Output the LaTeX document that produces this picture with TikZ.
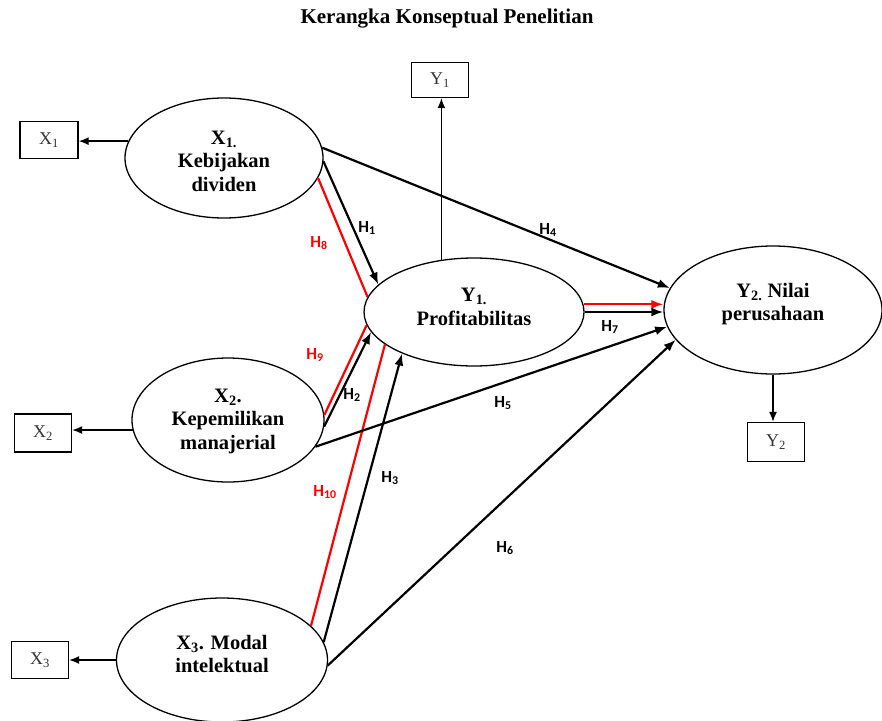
\documentclass[tikz,border=0pt]{standalone}
\usepackage{fontspec}
\setmainfont{Liberation Serif}
\newfontfamily\hfont{Carlito}
\usetikzlibrary{arrows.meta,shapes.geometric}
\begin{document}
\begin{tikzpicture}[x=1pt,y=-1pt,
  latent/.style={ellipse,draw,line width=1.3pt,inner sep=0pt},
  lt/.style={font=\bfseries\fontsize{20.5}{23.5}\selectfont,align=center,inner sep=0pt},
  ind/.style={rectangle,draw,line width=1.4pt,minimum width=57pt,minimum height=37pt,inner sep=0pt,font=\fontsize{18}{20}\selectfont,text=black!80},
  pathar/.style={line width=2.2pt,-{Latex[length=12pt,width=9pt]}},
  med/.style={line width=2.2pt,red},
  thinar/.style={line width=1.3pt,-{Latex[length=10pt,width=8pt]}},
  hl/.style={font=\hfont\bfseries\fontsize{17}{17}\selectfont,inner sep=0pt},
]
\useasboundingbox (0,0) rectangle (882,720);

\node[font=\bfseries\fontsize{21}{24}\selectfont] (title) at (447,19) {Kerangka Konseptual Penelitian};

% latent variables
\node[latent,minimum width=198pt,minimum height=120pt,
  label={[lt,yshift=-3pt]center:X\textsubscript{1.}\\Kebijakan\\dividen}] (x1) at (224,158) {};
\node[latent,minimum width=192pt,minimum height=124pt,
  label={[lt,yshift=-1pt]center:X\textsubscript{2}.\\Kepemilikan\\manajerial}] (x2) at (228,420) {};
\node[latent,minimum width=211pt,minimum height=124pt,
  label={[lt,yshift=6pt]center:X\textsubscript{3}. Modal\\intelektual}] (x3) at (222,660) {};
\node[latent,minimum width=220pt,minimum height=108pt,
  label={[lt,yshift=5pt]center:Y\textsubscript{1.}\\Profitabilitas}] (y1) at (474,312) {};
\node[latent,minimum width=218pt,minimum height=128pt,
  label={[lt,yshift=6pt]center:Y\textsubscript{2.} Nilai\\perusahaan}] (y2) at (773,310) {};

% indicator boxes
\node[ind,minimum width=58pt] (x1box) at (49,140) {X\textsubscript{1}};
\node[ind,minimum height=38pt] (x2box) at (43,433) {X\textsubscript{2}};
\node[ind] (x3box) at (40,660) {X\textsubscript{3}};
\node[ind,minimum height=35pt] (y1box) at (440,80) {Y\textsubscript{1}};
\node[ind,minimum height=39pt] (y2box) at (776,442) {Y\textsubscript{2}};

% indicator arrows
\draw[thinar] (x1.170) -- (x1.170 -| x1box.east);
\draw[thinar] (x2.186) -- (x2.186 -| x2box.east);
\draw[thinar] (x3.west) -- (x3.west -| x3box.east);
\draw[thinar] (y1.122) -- (y1.122 |- y1box.south);
\draw[thinar] (y2.south) -- (y2.south |- y2box.north);

% mediation (red) lines
\draw[med] (x1.-12) -- (y1.172);
\draw[med] (x2.3) -- (y1.187);
\draw[med] (x3.21) -- (y1.200);
\draw[med,-{Latex[length=12pt,width=9pt]}] (y1.4) -- (y1.4 -| y2.west);

% direct paths
\draw[pathar] (x1.-2) -- (y1.164);
\draw[pathar] (x1.6) -- (y2.168);
\draw[pathar] (x2.-4) -- (y1.191);
\draw[pathar] (x2.-17) -- (y2.189);
\draw[pathar] (x3.10) -- (y1.210);
\draw[pathar] (x3.-3) -- (y2.197);
\draw[pathar] (y1.east) -- (y1.east -| y2.west);

% hypothesis labels
\node[hl] (h1) at (367,228) {H\textsubscript{1}};
\node[hl,red] (h8) at (319,243) {H\textsubscript{8}};
\node[hl] (h4) at (548,230) {H\textsubscript{4}};
\node[hl,red] (h9) at (315,355) {H\textsubscript{9}};
\node[hl] (h2) at (352,395) {H\textsubscript{2}};
\node[hl] (h7) at (610,327) {H\textsubscript{7}};
\node[hl] (h5) at (503,403) {H\textsubscript{5}};
\node[hl] (h3) at (390,478) {H\textsubscript{3}};
\node[hl,red] (h10) at (325,492) {H\textsubscript{10}};
\node[hl] (h6) at (505,548) {H\textsubscript{6}};
\end{tikzpicture}
\end{document}
